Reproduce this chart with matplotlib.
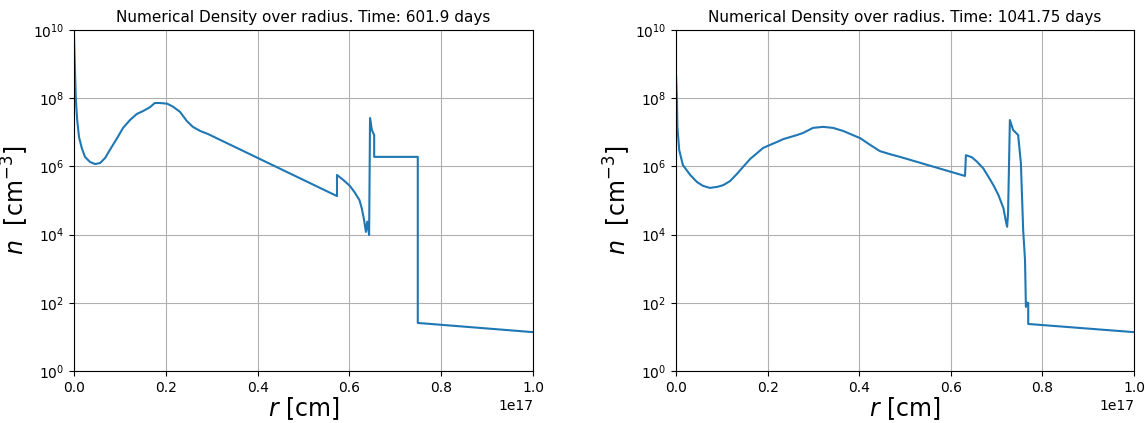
import numpy as np
import matplotlib.pyplot as plt

# Left panel: t = 601.9 days  (r in units of 1e17 cm, log10 n)
r_a = [0.0, 0.004, 0.007, 0.011, 0.017, 0.024, 0.035, 0.046, 0.057, 0.068,
       0.078, 0.094, 0.107, 0.122, 0.137, 0.150, 0.166, 0.176, 0.187, 0.203,
       0.216, 0.231, 0.246, 0.259, 0.275, 0.292, 0.573,
       0.573, 0.587, 0.601, 0.612, 0.622, 0.627, 0.632, 0.636, 0.639, 0.643,
       0.645, 0.649, 0.654, 0.654, 0.749, 0.749, 1.0]
logn_a = [9.85, 7.98, 7.36, 6.86, 6.54, 6.28, 6.13, 6.07, 6.10, 6.25,
          6.48, 6.83, 7.13, 7.36, 7.54, 7.62, 7.74, 7.86, 7.86, 7.84,
          7.75, 7.60, 7.33, 7.16, 7.04, 6.95, 5.13,
          5.75, 5.60, 5.43, 5.23, 5.01, 4.77, 4.43, 4.08, 4.38, 3.99,
          7.42, 7.07, 6.92, 6.28, 6.28, 1.41, 1.14]

# Right panel: t = 1041.75 days
r_b = [0.0, 0.002, 0.003, 0.007, 0.015, 0.031, 0.046, 0.059, 0.074, 0.090,
       0.103, 0.118, 0.133, 0.146, 0.162, 0.177, 0.190, 0.205, 0.221, 0.234,
       0.249, 0.264, 0.277, 0.286, 0.299, 0.321, 0.343, 0.365, 0.386, 0.402,
       0.424, 0.445, 0.467, 0.489, 0.631,
       0.633, 0.646, 0.657, 0.671, 0.682, 0.693, 0.704, 0.715, 0.721, 0.723,
       0.725, 0.729, 0.736, 0.747, 0.753, 0.758, 0.762, 0.764, 0.766, 0.769,
       0.769, 1.0]
logn_b = [8.68, 7.95, 7.16, 6.48, 6.04, 5.75, 5.54, 5.43, 5.37, 5.40,
          5.45, 5.57, 5.78, 5.98, 6.22, 6.39, 6.54, 6.63, 6.72, 6.80,
          6.86, 6.92, 6.98, 7.04, 7.13, 7.16, 7.13, 7.04, 6.92, 6.83,
          6.63, 6.45, 6.36, 6.28, 5.72,
          6.33, 6.27, 6.14, 5.94, 5.70, 5.45, 5.16, 4.77, 4.34, 4.23,
          4.63, 7.36, 7.07, 6.92, 6.10, 4.13, 3.26, 1.88, 2.0, 2.0,
          1.38, 1.14]

times = ['601.9', '1041.75']

fig = plt.figure(figsize=(11.45, 4.23), dpi=100)
ax1 = fig.add_axes([0.0646, 0.1229, 0.4009, 0.8061])
ax2 = fig.add_axes([0.5904, 0.1229, 0.4, 0.8061])

for ax, r, ln, t in [(ax1, r_a, logn_a, times[0]), (ax2, r_b, logn_b, times[1])]:
    ax.plot(np.array(r) * 1e17, 10.0 ** np.array(ln), color='tab:blue', lw=1.5)
    ax.set_yscale('log')
    ax.set_xlim(0, 1e17)
    ax.set_ylim(1, 1e10)
    ax.set_yticks([10.0 ** k for k in range(0, 11, 2)])
    ax.minorticks_off()
    ax.grid(True)
    ax.set_title('Numerical Density over radius. Time: %s days' % t, fontsize=11)
    ax.set_xlabel('$r$ [cm]', fontsize=17, labelpad=0)
    ax.set_ylabel('$n$  [cm$^{-3}$]', fontsize=17, labelpad=1)
    ax.tick_params(labelsize=10)

fig.savefig('out.png', dpi=100)
